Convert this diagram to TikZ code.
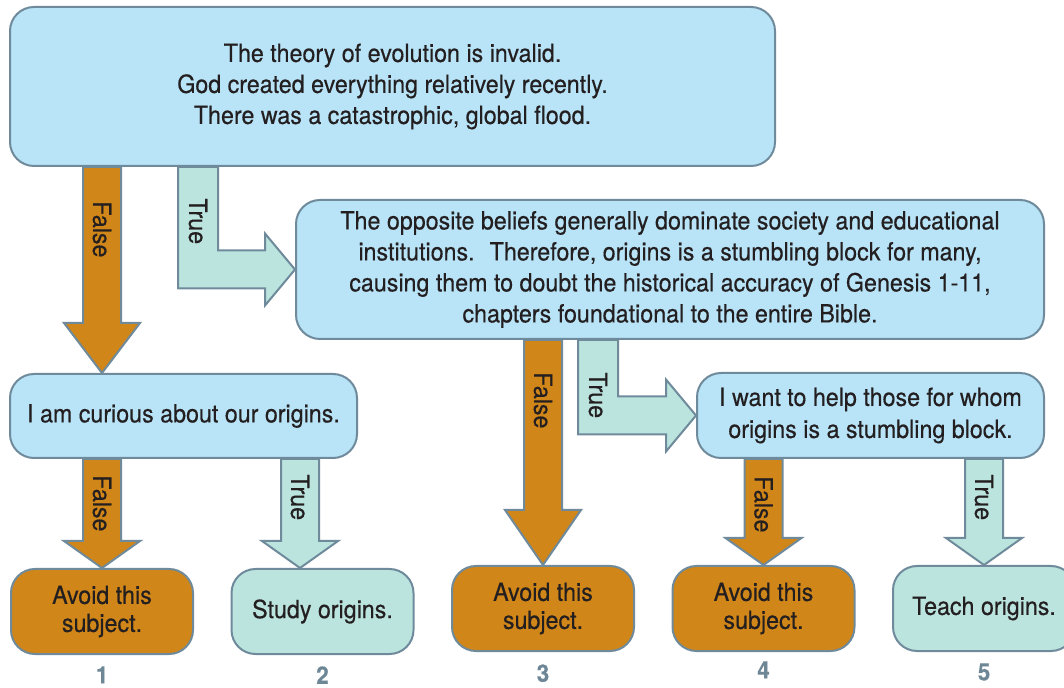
\documentclass[tikz,border=0pt]{standalone}
\usepackage{fontspec}
\setmainfont{TeX Gyre Heros}[FakeStretch=0.93,FakeBold=0.4]
\usetikzlibrary{calc,positioning}
\definecolor{cbox}{RGB}{185,228,248}
\definecolor{cteal}{RGB}{188,228,222}
\definecolor{corange}{RGB}{208,134,24}
\definecolor{cedge}{RGB}{110,138,155}
\definecolor{ctext}{RGB}{35,31,32}
\definecolor{cnum}{RGB}{110,135,150}

\tikzset{
  box/.style={draw=cedge,line width=1pt,rounded corners=12pt,align=center,text=ctext,inner sep=0pt},
  bluebox/.style={box,fill=cbox},
  smallbox/.style={box,minimum width=91pt,minimum height=42.5pt,font=\fontsize{12.5}{14}\selectfont},
  falsearrow/.style={draw=cedge,fill=corange,line width=1pt,line join=miter},
  truearrow/.style={draw=cedge,fill=cteal,line width=1pt,line join=miter},
  % straight block arrow, #1 = head length
  vblock/.style={to path={let \p1=(\tikztostart), \p2=(\tikztotarget) in
    (\x1-9.5pt,\y1) -- (\x1-9.5pt,\y2+#1) -- (\x1-19pt,\y2+#1) -- (\x1,\y2)
    -- (\x1+19pt,\y2+#1) -- (\x1+9.5pt,\y2+#1) -- (\x1+9.5pt,\y1) -- cycle}},
  % bent block arrow, down then right
  lblock/.style={to path={let \p1=(\tikztostart), \p2=(\tikztotarget) in
    (\x1-10pt,\y1) -- (\x1-10pt,\y2-9.5pt) -- (\x2-15pt,\y2-9.5pt) -- (\x2-15pt,\y2-18pt)
    -- (\x2,\y2) -- (\x2-15pt,\y2+18pt) -- (\x2-15pt,\y2+9.5pt) -- (\x1+10pt,\y2+9.5pt)
    -- (\x1+10pt,\y1) -- cycle}},
  lab/.style={rotate=-90,anchor=west,inner sep=0pt,text=ctext},
  num/.style={font=\fontsize{12}{12}\bfseries,text=cnum,inner sep=0pt}
}

\begin{document}
\begin{tikzpicture}[x=0.5pt,y=-0.5pt,font=\fontsize{12.5}{15.5}\selectfont,node distance=18.25pt]
  \useasboundingbox (0,0) rectangle (1064,688);

  \node[bluebox,minimum width=382.5pt,minimum height=79.5pt] (top) at (392.5,86.5)
    {The theory of evolution is invalid.\\God created everything relatively recently.\\There was a catastrophic, global flood.};
  \node[bluebox,minimum width=374pt,minimum height=69.5pt] (opp) at (670,269.5)
    {The opposite beliefs generally dominate society and educational\\institutions.~ Therefore, origins is a stumbling block for many,\\causing them to doubt the historical accuracy of Genesis 1-11,\\chapters foundational to the entire Bible.};
  \node[bluebox,minimum width=173.5pt,minimum height=42pt] (cur) at (183.5,416)
    {I am curious about our origins.};
  \node[bluebox,minimum width=173.5pt,minimum height=42.5pt,font=\fontsize{12.5}{16}\selectfont] (help) at (870.5,415.5)
    {I want to help those for whom\\origins is a stumbling block.};

  \node[smallbox,fill=corange] (a1) at (102,611.5) {Avoid this\\subject.};
  \node[smallbox,fill=cteal,right=of a1] (s2) {Study origins.};
  \node[smallbox,fill=corange,right=of s2,yshift=1.5pt] (a3) {Avoid this\\subject.};
  \node[smallbox,fill=corange,right=of a3] (a4) {Avoid this\\subject.};
  \node[smallbox,fill=cteal,right=of a4] (t5) {Teach origins.};

  \draw[falsearrow,vblock=25pt] (top.south -| a1) to (cur.north -| a1);
  \draw[truearrow,lblock] (top.south -| 198,0) to (opp.west);
  \draw[falsearrow,vblock=27.5pt] (opp.south -| a3) to (a3.north);
  \draw[truearrow,lblock] (opp.south -| 598,0) to (help.west);
  \draw[falsearrow,vblock=13.5pt] (cur.south -| a1) to (a1.north);
  \draw[truearrow,vblock=13.5pt] (cur.south -| 300,0) to (s2.north -| 300,0);
  \draw[falsearrow,vblock=13.5pt] (help.south -| a4) to (a4.north);
  \draw[truearrow,vblock=13.5pt] (help.south -| t5) to (t5.north);

  \node[lab] at ($(top.south -| a1)+(0,34)$) {False};
  \node[lab] at ($(top.south -| 198,0)+(0,31)$) {True};
  \node[lab] at ($(opp.south -| a3)+(0,32)$) {False};
  \node[lab] at ($(opp.south -| 598,0)+(0,32)$) {True};
  \node[lab] at ($(cur.south -| a1)+(0,16)$) {False};
  \node[lab] at ($(cur.south -| 300,0)+(0,15)$) {True};
  \node[lab] at ($(help.south -| a4)+(0,17)$) {False};
  \node[lab] at ($(help.south -| t5)+(0,15)$) {True};

  \node[num,below=5.5pt of a1] (n1) {1};
  \node[num,below=5.5pt of s2] (n2) {2};
  \node[num,below=6pt of a3] (n3) {3};
  \node[num,below=4.5pt of a4] (n4) {4};
  \node[num,below=5.5pt of t5] (n5) {5};
\end{tikzpicture}
\end{document}
